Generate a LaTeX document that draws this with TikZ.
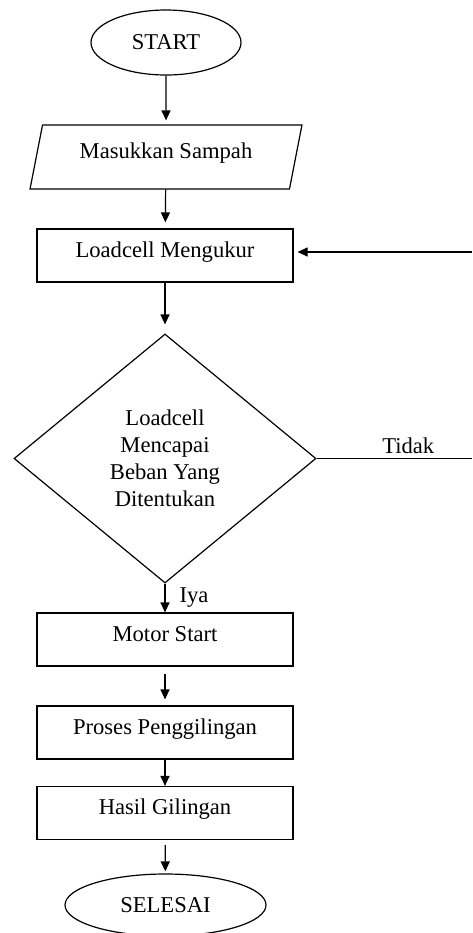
\documentclass[tikz,border=0pt]{standalone}
\usepackage{fontspec}
\setmainfont{Liberation Serif}
\usetikzlibrary{shapes.geometric,arrows.meta}

\begin{document}
\begin{tikzpicture}[x = 0.5pt, y = -0.5pt, line width = 0.6pt,
                    font = \fontsize{11.3}{13.5}\selectfont,
                    terminal/.style = {ellipse, draw, inner sep = 0pt},
                    process/.style = {rectangle, draw, minimum width = 128pt, minimum height = 26.5pt,
                                      text height = 7.7pt, text depth = 6pt},
                    inputbox/.style = {trapezium, draw, trapezium left angle = 77, trapezium right angle = 103,
                                       trapezium stretches = true, minimum width = 136pt, minimum height = 32pt,
                                       text height = 7.7pt, text depth = 6pt},
                    decision/.style = {diamond, draw, align = center, minimum width = 151pt, minimum height = 124.5pt},
                    flow/.style = {-{Triangle[length = 5pt, width = 4.5pt]}}]

\useasboundingbox (0,0) rectangle (472,933);

% main column
\node [terminal, minimum width = 75pt, minimum height = 32.5pt] (start) at (166,42.5) {START};
\node [inputbox] (input) at (166,157) {Masukkan Sampah};
\node [process] (measure) at (165,255.5) {Loadcell Mengukur};
\node [decision] (check) at (165,458.5) {Loadcell \\ Mencapai \\ Beban Yang \\ Ditentukan};
\node [process] (motor) at (165,639.5) {Motor Start};
\node [process] (grind) at (165,732.5) {Proses Penggilingan};
\node [process] (result) at (165,813) {Hasil Gilingan};
\node [terminal, minimum width = 100.5pt, minimum height = 31pt] (finish) at (165.5,905) {SELESAI};

% loop ends at the page edge
\coordinate (noEnd) at (472,458.5);
\coordinate (backStart) at (472,252);

\draw [flow, shorten > = 2pt] (start) -- (input);
\draw [flow, shorten > = 3pt] (input) -- (measure);
\draw [flow, shorten > = 4.5pt] (measure) -- (check);
\draw [flow] (check) -- node [right = 7pt, inner sep = 0pt] {Iya} (motor);
\draw [flow, shorten < = 3.5pt, shorten > = 3pt] (motor) -- (grind);
\draw [flow] (grind) -- (result);
\draw [flow, shorten < = 2.5pt, shorten > = 1pt] (result) -- (finish);

\draw (check.east) -- node [above, pos = 0.59, inner sep = 2pt] {Tidak} (noEnd);
\draw [flow, shorten > = 2pt] (backStart) -- (measure.east |- backStart);

\end{tikzpicture}
\end{document}
